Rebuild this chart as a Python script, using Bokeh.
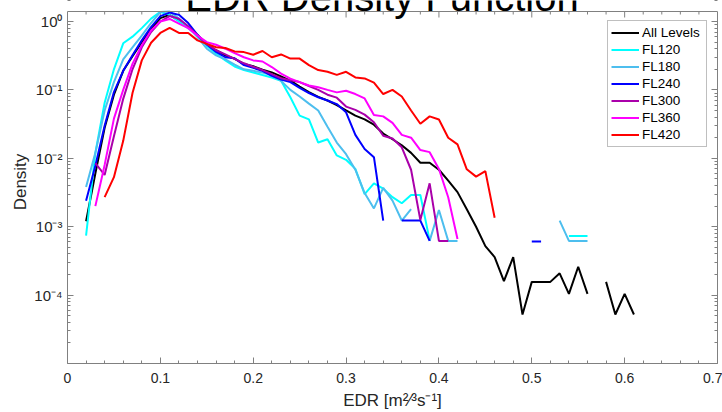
import math
from bokeh.plotting import figure
from bokeh.models import (FixedTicker, LogAxis, Label, Legend, Span,
                          CustomJSTickFormatter, Range1d)
from bokeh.embed import file_html
from bokeh.resources import INLINE

nan = float("nan")

# ---------------- data ----------------
EDR = [0.02, 0.03, 0.04, 0.05, 0.06, 0.07, 0.08, 0.09, 0.10, 0.11,
       0.12, 0.13, 0.14, 0.15, 0.16, 0.17, 0.18, 0.19, 0.20, 0.21,
       0.22, 0.23, 0.24, 0.25, 0.26, 0.27, 0.28, 0.29, 0.30, 0.31,
       0.32, 0.33, 0.34, 0.35, 0.36, 0.37, 0.38, 0.39, 0.40, 0.41,
       0.42, 0.43, 0.44, 0.45, 0.46, 0.47, 0.48, 0.49, 0.50, 0.51,
       0.52, 0.53, 0.54, 0.55, 0.56, 0.57, 0.58, 0.59, 0.60, 0.61]

all_levels = [1.2e-3, 6e-3, 0.028, 0.085, 0.19, 0.31, 0.50, 0.78, 1.12, 1.25,
              1.03, 0.83, 0.63, 0.46, 0.38, 0.32, 0.285, 0.24, 0.222, 0.198,
              0.18, 0.157, 0.137, 0.112, 0.093, 0.079, 0.07, 0.06, 0.05, 0.042,
              0.037, 0.031, 0.023, 0.019, 0.0155, 0.012, 8.6e-3, 8.6e-3, 6.8e-3, 4.7e-3,
              3.2e-3, 1.8e-3, 1.0e-3, 5.2e-4, 3.6e-4, 1.6e-4, 3.6e-4, 5.2e-5, 1.56e-4, 1.56e-4,
              1.56e-4, 2.08e-4, 1.04e-4, 2.6e-4, 1.04e-4, nan, 1.56e-4, 5.2e-5, 1.04e-4, 5.2e-5]

fl120 = [7.4e-4, 0.012, 0.065, 0.20, 0.48, 0.60, 0.80, 1.1, 1.38, 1.25,
         1.0, 0.80, 0.62, 0.44, 0.34, 0.27, 0.22, 0.195, 0.18, 0.165,
         0.152, 0.136, 0.078, 0.042, 0.037, 0.017, 0.019, 0.011, 9.5e-3, 7e-3,
         3.0e-3, 4.3e-3, 3.6e-3, 2.7e-3, 2.2e-3, 2.9e-3, 2.9e-3, 6.3e-4, nan, nan,
         nan, nan, nan, nan, nan, nan, nan, nan, nan, nan,
         nan, nan, 7.3e-4, 7.3e-4, 7.3e-4, nan, nan, nan, nan, nan]

fl180 = [3.8e-3, 0.012, 0.05, 0.13, 0.28, 0.42, 0.62, 0.95, 1.38, 1.4,
         1.1, 0.83, 0.59, 0.40, 0.32, 0.28, 0.235, 0.20, 0.19, 0.18,
         0.165, 0.135, 0.10, 0.08, 0.063, 0.05, 0.029, 0.017, 0.0115, 6.8e-3,
         3.1e-3, 1.85e-3, 3.7e-3, 2.4e-3, 1.23e-3, 1.8e-3, nan, 6.2e-4, 1.75e-3, 6.2e-4,
         6.2e-4, nan, nan, nan, nan, nan, nan, nan, nan, nan,
         nan, 1.23e-3, 6.2e-4, 6.2e-4, 6.2e-4, nan, nan, nan, nan, nan]

fl240 = [2.4e-3, 7.8e-3, 0.030, 0.093, 0.19, 0.32, 0.53, 0.83, 1.2, 1.35,
         1.25, 0.95, 0.64, 0.46, 0.36, 0.30, 0.29, 0.23, 0.21, 0.19,
         0.16, 0.142, 0.13, 0.107, 0.09, 0.078, 0.07, 0.062, 0.047, 0.022,
         0.0137, 0.0104, 1.23e-3, nan, 1.23e-3, 1.23e-3, 1.23e-3, 6.2e-4, nan, nan,
         nan, nan, nan, nan, nan, nan, nan, nan, 6.1e-4, 6.1e-4,
         nan, nan, nan, nan, nan, nan, nan, nan, nan, nan]

fl300 = [nan, 8.5e-3, 5.7e-3, 0.021, 0.074, 0.20, 0.42, 0.70, 1.0, 1.2,
         1.1, 0.85, 0.63, 0.47, 0.38, 0.33, 0.285, 0.245, 0.218, 0.195,
         0.17, 0.148, 0.138, 0.13, 0.114, 0.10, 0.085, 0.077, 0.057, 0.051,
         0.0435, 0.0336, 0.0214, 0.0195, 0.0145, 6.8e-3, 1.25e-3, 4.3e-3, 6.2e-4, 6.2e-4,
         nan, nan, nan, nan, nan, nan, nan, nan, nan, nan,
         nan, nan, nan, nan, nan, nan, nan, nan, nan, nan]

fl360 = [nan, 2.0e-3, 8e-3, 0.038, 0.10, 0.24, 0.45, 0.74, 1.0, 1.09,
         0.93, 0.80, 0.625, 0.50, 0.457, 0.40, 0.345, 0.30, 0.27, 0.26,
         0.216, 0.173, 0.146, 0.13, 0.116, 0.109, 0.10, 0.092, 0.097, 0.087,
         0.075, 0.043, 0.041, 0.033, 0.022, 0.020, 0.0132, 0.0123, 7e-3, 2.7e-3,
         6.6e-4, nan, nan, nan, nan, nan, nan, nan, nan, nan,
         nan, nan, nan, nan, nan, nan, nan, nan, nan, nan]

fl420 = [nan, nan, 2.7e-3, 5.3e-3, 0.018, 0.09, 0.27, 0.49, 0.68, 0.81,
         0.68, 0.68, 0.53, 0.47, 0.42, 0.41, 0.365, 0.357, 0.327, 0.37,
         0.30, 0.33, 0.287, 0.287, 0.23, 0.195, 0.184, 0.166, 0.184, 0.152,
         0.147, 0.128, 0.087, 0.10, 0.08, 0.05, 0.032, 0.041, 0.037, 0.02,
         0.016, 6.9e-3, 5.4e-3, 6.5e-3, 1.35e-3, nan, nan, nan, nan, nan,
         nan, nan, nan, nan, nan, nan, nan, nan, nan, nan]

series_names = ["All Levels", "FL120", "FL180", "FL240", "FL300", "FL360", "FL420"]
series_values = [all_levels, fl120, fl180, fl240, fl300, fl360, fl420]
series_colors = ["#000000", "#00FFFF", "#4DBEEE", "#0000FF", "#AA00AA", "#FF00FF", "#FF0000"]

x_ticks = [0, 0.1, 0.2, 0.3, 0.4, 0.5, 0.6, 0.7]
y_decades = [0, -1, -2, -3, -4]
Y_MIN, Y_MAX = 1e-5, 1.4

# ---------------- layout / style ----------------
FONT = "Liberation Sans"
GRAY = "#808080"
TXT = "#262626"
W, H = 722, 412
FRAME_LEFT, FRAME_RIGHT = 67, 717
BOX_TOP, FRAME_BOTTOM = 11, 363
# the frame reaches the top of the canvas so that the big title (cut off at the
# top, as in the original) can be drawn; the visible axes box stops at Y_MAX.
dec_per_px = math.log10(Y_MAX / Y_MIN) / (FRAME_BOTTOM - BOX_TOP)
y_frame_top = Y_MAX * 10 ** (BOX_TOP * dec_per_px)

p = figure(width=W, height=H, x_range=Range1d(0, 0.7), y_range=Range1d(Y_MIN, y_frame_top),
           y_axis_type="log", output_backend="svg", toolbar_location=None,
           min_border_left=FRAME_LEFT, min_border_right=W - FRAME_RIGHT, min_border_top=0,
           min_border_bottom=H - FRAME_BOTTOM)
p.title.visible = False
p.grid.visible = False
p.outline_line_color = None
p.background_fill_color = "white"
p.border_fill_color = "white"

x_minor = [round(0.02 * i, 2) for i in range(36) if i % 5]
y_major = [10.0 ** e for e in y_decades]
y_minor = [m * 10.0 ** e for e in range(-5, 1) for m in range(1, 10)]
xticker = FixedTicker(ticks=x_ticks, minor_ticks=x_minor)
yticker = FixedTicker(ticks=y_major, minor_ticks=y_minor)


def style_axis(ax):
    ax.axis_line_color = GRAY
    ax.major_tick_line_color = GRAY
    ax.minor_tick_line_color = GRAY
    ax.major_tick_in = 6
    ax.major_tick_out = 0
    ax.minor_tick_in = 3
    ax.minor_tick_out = 0


xb = p.xaxis[0]
xb.ticker = xticker
xb.formatter = CustomJSTickFormatter(code="return tick == 0 ? '0' : tick.toFixed(1)")
xb.major_label_text_font = FONT
xb.major_label_text_font_size = "14px"
xb.major_label_text_color = TXT
xb.major_label_standoff = 9
xb.axis_label = "EDR [m\u00b2\u2044\u00b3s\u207b\u00b9]"
xb.axis_label_text_font = FONT
xb.axis_label_text_font_size = "17px"
xb.axis_label_text_font_style = "normal"
xb.axis_label_text_color = TXT
xb.axis_label_standoff = 5
style_axis(xb)

sup_fmt = CustomJSTickFormatter(code="""
const s = {"-": "\u207b", "0": "\u2070", "1": "\u00b9", "2": "\u00b2", "3": "\u00b3",
           "4": "\u2074", "5": "\u2075"};
const e = String(Math.round(Math.log10(tick)));
return "10" + e.split("").map(c => s[c]).join("");
""")

yl = p.yaxis[0]
yl.ticker = yticker
yl.formatter = sup_fmt
yl.bounds = (Y_MIN, Y_MAX)
yl.major_label_text_font = FONT
yl.major_label_text_font_size = "15px"
yl.major_label_text_color = TXT
yl.major_label_standoff = 5
yl.axis_label = "Density"
yl.axis_label_text_font = FONT
yl.axis_label_text_font_size = "17px"
yl.axis_label_text_font_style = "normal"
yl.axis_label_text_color = TXT
yl.axis_label_standoff = 1
style_axis(yl)

right = LogAxis(ticker=yticker, formatter=CustomJSTickFormatter(code="return ''"),
                major_label_text_font_size="0px", major_label_standoff=0,
                bounds=(Y_MIN, Y_MAX))
style_axis(right)
p.add_layout(right, "right")

# top edge of the axes box with its inward ticks
p.add_layout(Span(location=Y_MAX, dimension="width", line_color=GRAY, line_width=1))
p.segment(x0=x_ticks, y0=[Y_MAX] * len(x_ticks), x1=x_ticks,
          y1=[Y_MAX * 10 ** (-6 * dec_per_px)] * len(x_ticks), line_color=GRAY, line_width=1)
p.segment(x0=x_minor, y0=[Y_MAX] * len(x_minor), x1=x_minor,
          y1=[Y_MAX * 10 ** (-3 * dec_per_px)] * len(x_minor), line_color=GRAY, line_width=1)

renderers = []
for name, vals, col in zip(series_names, series_values, series_colors):
    r = p.line(EDR, vals, line_color=col, line_width=2)
    renderers.append((name, [r]))

legend = Legend(items=renderers, location=(607 - FRAME_LEFT, FRAME_BOTTOM - 147), margin=0,
                padding=3, spacing=0, glyph_width=28, glyph_height=17, label_height=17,
                label_width=61, label_standoff=3, label_text_font=FONT,
                label_text_font_size="13.5px", label_text_color="black",
                border_line_color=GRAY, border_line_width=1,
                background_fill_color="white", background_fill_alpha=1.0)
p.add_layout(legend)

# title (cut off at the top, as in the original: baseline about 12 px below the top)
p.add_layout(Label(x=381.5 - FRAME_LEFT, y=FRAME_BOTTOM + 4, x_units="screen", y_units="screen",
                   text="EDR Density Function", text_align="center", text_baseline="alphabetic",
                   text_font=FONT, text_font_size="40px", text_color="black"))

open("out.html", "w").write(file_html(p, INLINE))
